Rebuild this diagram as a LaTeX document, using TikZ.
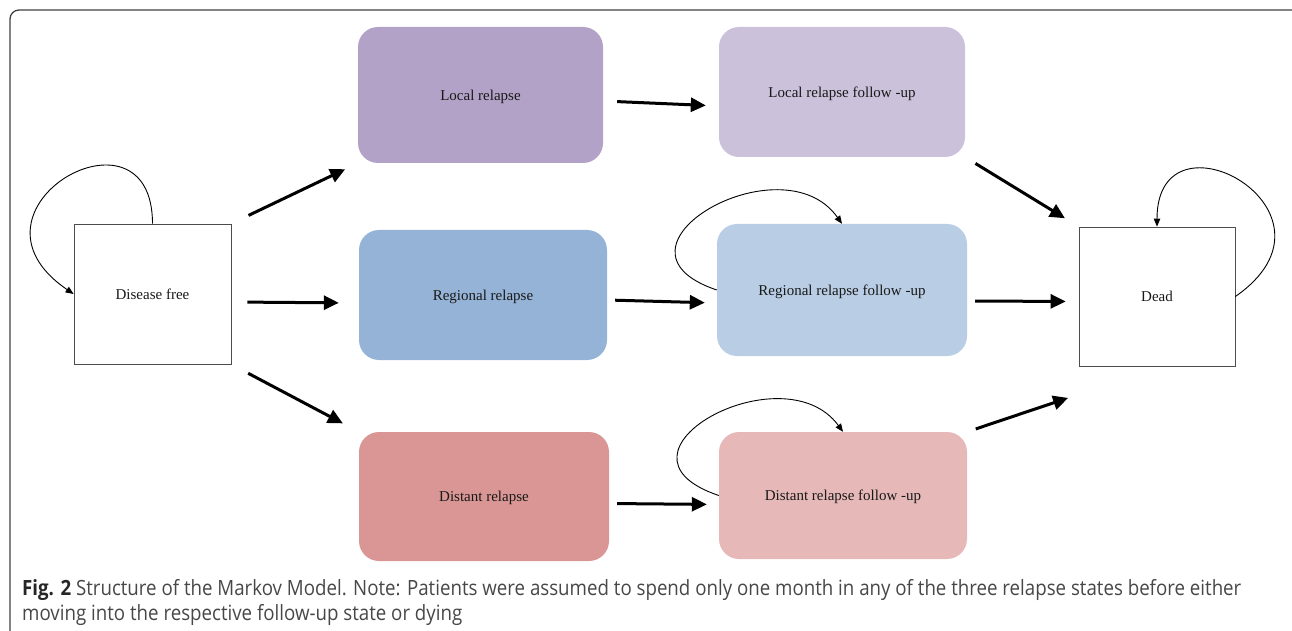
\documentclass[tikz,border=0pt]{standalone}
\usepackage{fontspec}
\setmainfont{Liberation Serif}
\newfontfamily\captionfont{Open Sans}
\usetikzlibrary{calc,arrows.meta}
\definecolor{localdark}{HTML}{B3A2C7}
\definecolor{locallight}{HTML}{CCC1DA}
\definecolor{regionaldark}{HTML}{95B3D7}
\definecolor{regionallight}{HTML}{B9CDE5}
\definecolor{distantdark}{HTML}{D99694}
\definecolor{distantlight}{HTML}{E6B9B8}
\newcommand{\capline}[1]{\scalebox{0.89}[1]{#1}}
\newcommand{\selfloop}[4]{
	\draw[thin loop] (#1) .. controls +(#2) and +(#3) .. (#4);
}

\begin{document}
\begin{tikzpicture}[x=1pt,y=1pt,
	state/.style={draw=black!70, line width=0.8pt, fill=white, inner sep=0pt,
		font=\fontsize{15}{18}\selectfont, text=black!90, text depth=0pt},
	relapse/.style={rounded corners=20pt, inner sep=0pt,
		font=\fontsize{15}{18}\selectfont, text=black!90, text depth=0pt},
	flow/.style={-{Triangle[length=15pt,width=14pt]}, line width=3pt},
	thin loop/.style={-{Triangle[length=8pt,width=6.5pt]}, line width=0.9pt},
	caption/.style={font=\captionfont\fontsize{21}{25}\selectfont, text=black!72, inner sep=0pt}]
	\clip (0,0) rectangle (1292,630);
	\draw[rounded corners=9pt, line width=1.3pt, draw=black!75] (10,-30) rectangle (1302,620);

	\node[state, minimum width=157pt, minimum height=140pt] (DF) at (152.5,336) {Disease free};
	\node[state, minimum width=156pt, minimum height=139pt] (Dead) at (1157,333.5) {Dead};
	\node[relapse, fill=localdark, minimum width=245pt, minimum height=136pt] (LR) at (480.5,535) {Local relapse};
	\node[relapse, fill=locallight, minimum width=246pt, minimum height=130pt] (LRF) at (842,538) {Local relapse follow -up};
	\node[relapse, fill=regionaldark, minimum width=248pt, minimum height=130pt] (RR) at (483,335) {Regional relapse};
	\node[relapse, fill=regionallight, minimum width=250pt, minimum height=132pt] (RRF) at (842,340) {Regional relapse follow  -up};
	\node[relapse, fill=distantdark, minimum width=250pt, minimum height=129pt] (DR) at (484,133.5) {Distant relapse};
	\node[relapse, fill=distantlight, minimum width=248pt, minimum height=127pt] (DRF) at (843,134.5) {Distant relapse follow  -up};

	% transitions
	\draw[flow, shorten <=19pt, shorten >=14pt] (DF.north east) -- (LR.south west);
	\draw[flow, shorten <=16pt, shorten >=20pt] ([yshift=-8pt]DF.east) -- ([yshift=-8pt]RR.west);
	\draw[flow, shorten <=19pt, shorten >=18pt] (DF.south east) -- (DR.north west);
	\draw[flow, shorten <=14pt, shorten >=13pt] ([yshift=-6pt]LR.east) -- ([yshift=-14pt]LRF.west);
	\draw[flow, shorten <=8pt, shorten >=12pt] ([yshift=-5pt]RR.east) -- ([yshift=-13pt]RRF.west);
	\draw[flow, shorten <=8pt, shorten >=12pt] ([yshift=-7pt]DR.east) -- ([yshift=-9pt]DRF.west);
	\draw[flow, shorten <=12pt, shorten >=16pt] (LRF.south east) -- (Dead.north west);
	\draw[flow, shorten <=8pt, shorten >=13pt] ([yshift=-11pt]RRF.east) -- ([yshift=-5pt]Dead.west);
	\draw[flow, shorten <=9pt, shorten >=11pt] (DRF.north east) -- ([yshift=-28pt]Dead.south west);

	% staying in the same state
	\selfloop{DF.north}{0,130}{-125,85}{DF.west}
	\selfloop{Dead.east}{122,85}{0,125}{Dead.north}
	\selfloop{RRF.west}{-125,42}{-60,85}{RRF.north}
	\selfloop{DRF.west}{-125,42}{-60,82}{DRF.north}

	\node[caption, anchor=base west] (capone) at (22,35) {\capline{{\bfseries\color{black!85}Fig. 2} Structure of the Markov Model. Note: Patients were assumed to spend only one month in any of the three relapse states before either}};
	\node[caption, anchor=base west] (captwo) at (22,10) {\capline{moving into the respective follow-up state or dying}};
\end{tikzpicture}
\end{document}
